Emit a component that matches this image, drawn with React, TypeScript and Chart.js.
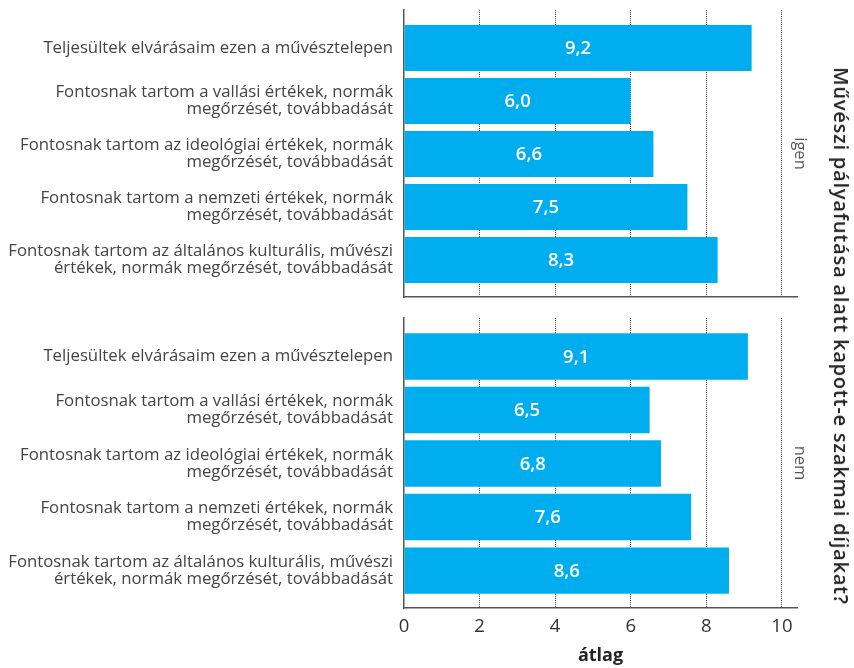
import { useEffect, useRef } from 'react';
import { Chart, registerables } from 'chart.js';

Chart.register(...registerables);

const categories: string[][] = [
  ['Teljesültek elvárásaim ezen a művésztelepen'],
  ['Fontosnak tartom a vallási értékek, normák', 'megőrzését, továbbadását'],
  ['Fontosnak tartom az ideológiai értékek, normák', 'megőrzését, továbbadását'],
  ['Fontosnak tartom a nemzeti értékek, normák', 'megőrzését, továbbadását'],
  ['Fontosnak tartom az általános kulturális, művészi', 'értékek, normák megőrzését, továbbadását'],
];
const panelLabels = ['igen', 'nem'];
const valuesIgen = [9.2, 6.0, 6.6, 7.5, 8.3];
const valuesNem = [9.1, 6.5, 6.8, 7.6, 8.6];
const xAxisTitle = 'átlag';
const facetTitle = 'Művészi pályafutása alatt kapott-e szakmai díjakat?';

const FONT = "'Open Sans', sans-serif";
const BAR = '#00AEEF';

const valueLabels = {
  id: 'valueLabels',
  afterDatasetsDraw(chart: any) {
    const ctx = chart.ctx;
    const meta = chart.getDatasetMeta(0);
    const data = chart.data.datasets[0].data as any[];
    ctx.save();
    ctx.fillStyle = '#ffffff';
    ctx.font = `600 18.5px ${FONT}`;
    ctx.textAlign = 'center';
    ctx.textBaseline = 'middle';
    meta.data.forEach((el: any, i: number) => {
      const v = data[i].x as number;
      ctx.fillText(v.toFixed(1).replace('.', ','), (el.x + el.base) / 2, el.y + 1);
    });
    ctx.restore();
  },
};

const stripLabel = {
  id: 'stripLabel',
  afterDraw(chart: any, _args: any, opts: any) {
    const { ctx, chartArea } = chart;
    ctx.save();
    ctx.translate(800, (chartArea.top + chartArea.bottom) / 2);
    ctx.rotate(Math.PI / 2);
    ctx.fillStyle = '#555';
    ctx.font = `16.5px ${FONT}`;
    ctx.textAlign = 'center';
    ctx.textBaseline = 'middle';
    ctx.fillText(opts.text, 0, 0);
    ctx.restore();
  },
};

function Panel(props: {
  values: number[];
  label: string;
  top: number;
  height: number;
  padTop: number;
  padBottom: number;
  xHeight: number;
  showX: boolean;
}) {
  const ref = useRef<HTMLCanvasElement>(null);
  useEffect(() => {
    const { values, label, padTop, padBottom, xHeight, showX } = props;
    const chart = new Chart(ref.current as HTMLCanvasElement, {
      type: 'bar',
      data: {
        datasets: [
          {
            data: values.map((v, i) => ({ x: v, y: i })),
            backgroundColor: BAR,
            borderWidth: 0,
            barPercentage: 0.868,
            categoryPercentage: 1,
          },
        ],
      },
      options: {
        indexAxis: 'y',
        animation: false,
        responsive: false,
        maintainAspectRatio: false,
        layout: { padding: { top: padTop, bottom: padBottom, left: 0, right: 57 } },
        plugins: {
          legend: { display: false },
          tooltip: { enabled: false },
          stripLabel: { text: label },
        } as any,
        scales: {
          x: {
            type: 'linear',
            position: 'bottom',
            min: 0,
            max: 10.4,
            offset: false,
            afterFit: (s: any) => {
              s.height = xHeight;
              s.paddingLeft = 0;
              s.paddingRight = 0;
            },
            ticks: {
              display: showX,
              stepSize: 2,
              includeBounds: false,
              padding: 8,
              color: '#333',
              font: { family: FONT, size: 18.5 },
            },
            grid: {
              drawTicks: false,
              offset: false,
              lineWidth: 1,
              color: (c: any) => (c.tick && c.tick.value === 0 ? 'rgba(0,0,0,0)' : '#444'),
            },
            border: { display: true, color: '#555', width: 1.5, dash: [1, 1] },
            title: {
              display: showX,
              text: xAxisTitle,
              color: '#222',
              font: { family: FONT, size: 18, weight: 'bold' },
              padding: { top: 0, bottom: 1 },
            },
          },
          y: {
            type: 'linear',
            reverse: true,
            offset: false,
            bounds: 'data',
            min: -0.717,
            max: 4.698,
            afterFit: (s: any) => {
              s.width = 404;
              s.paddingTop = 0;
              s.paddingBottom = 0;
            },
            afterBuildTicks: (s: any) => {
              s.ticks = categories.map((_, i) => ({ value: i }));
            },
            ticks: {
              padding: 11,
              color: '#444',
              font: { family: FONT, size: 16.75, lineHeight: 1.02 },
              callback: (v: any) => categories[Math.round(Number(v))],
            },
            grid: { display: false, drawTicks: false, offset: false },
            border: { display: true, color: '#555', width: 1.5 },
          },
        },
      } as any,
      plugins: [valueLabels, stripLabel],
    });
    return () => chart.destroy();
  }, []);
  return (
    <canvas
      ref={ref}
      width={854}
      height={props.height}
      style={{ position: 'absolute', left: 0, top: props.top, width: 854, height: props.height }}
    />
  );
}

export default function App() {
  return (
    <div style={{ position: 'fixed', left: 0, top: 0, width: 854, height: 668, background: '#fff', overflow: 'hidden' }}>
      <Panel values={valuesIgen} label={panelLabels[0]} top={0} height={305} padTop={10} padBottom={8} xHeight={0} showX={false} />
      <Panel values={valuesNem} label={panelLabels[1]} top={308} height={360} padTop={10} padBottom={0} xHeight={60} showX={true} />
      <div
        style={{
          position: 'absolute',
          left: 841,
          top: 336,
          transform: 'translate(-50%, -50%) rotate(90deg)',
          whiteSpace: 'nowrap',
          fontFamily: FONT,
          fontWeight: 600,
          fontSize: 20,
          letterSpacing: '0.8px',
          color: '#222',
          lineHeight: 1,
        }}
      >
        {facetTitle}
      </div>
    </div>
  );
}
